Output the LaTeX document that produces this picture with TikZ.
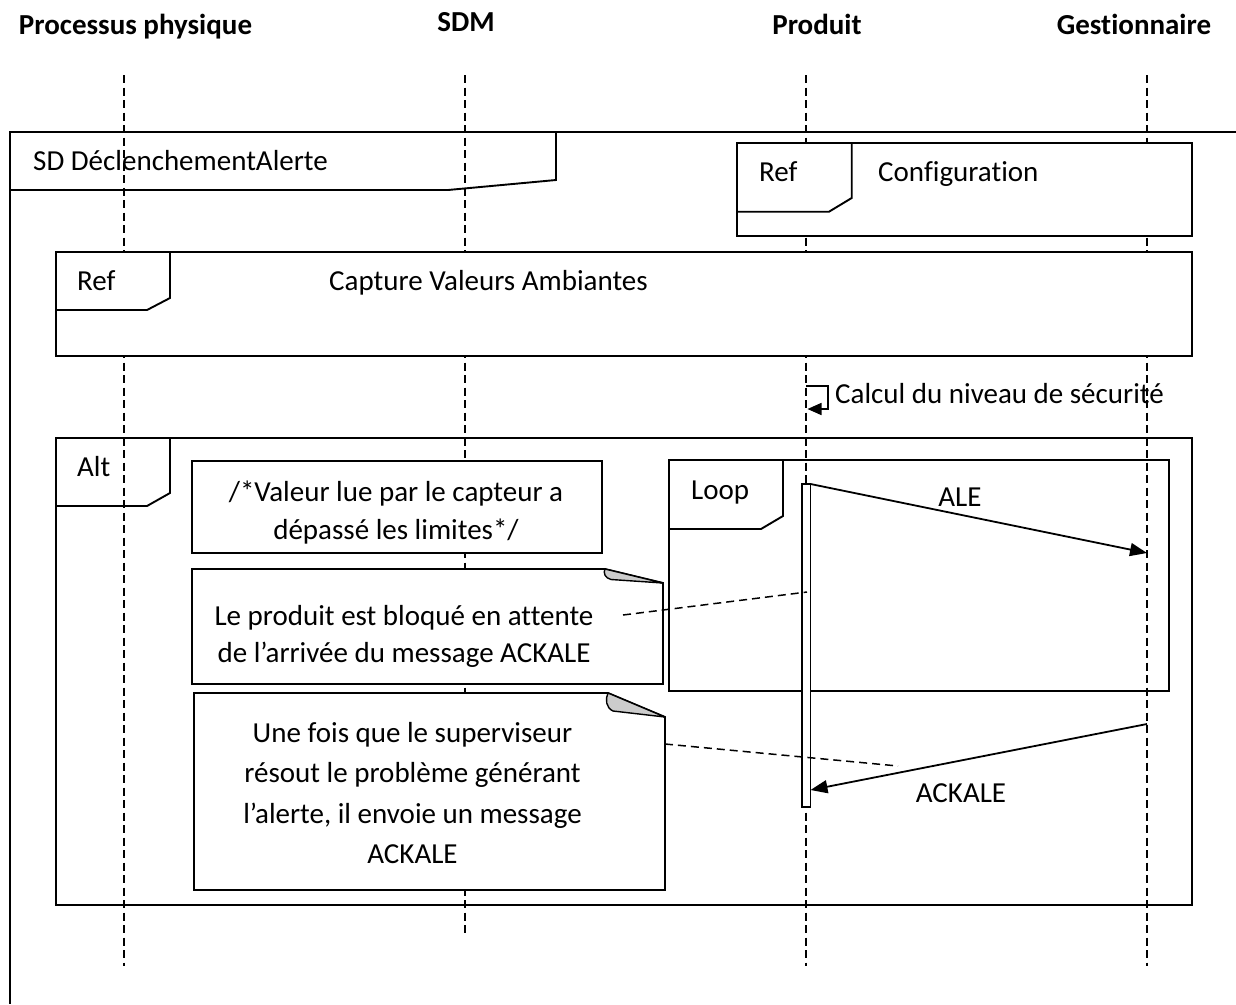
\documentclass[tikz,border=0pt]{standalone}
\usepackage{fontspec}
\setmainfont{Carlito}[Ligatures=NoCommon]
\usetikzlibrary{arrows.meta}
\begin{document}
\begin{tikzpicture}[x=1pt,y=-1pt,
  lifeline/.style={line width=1.5pt, dash pattern=on 8pt off 4.5pt},
  frm/.style={line width=1.9pt, line join=miter},
  boxfill/.style={frm, fill=white},
  msg/.style={line width=1.8pt, -{Triangle[length=17pt,width=13pt]}},
  selfmsg/.style={line width=1.7pt, -{Triangle[length=14pt,width=12pt]}},
  notelink/.style={line width=1.5pt, dash pattern=on 8pt off 5pt},
  curl/.style={fill=gray!40, line width=1.4pt, line join=round},
  lbl/.style={inner sep=0pt, font=\fontsize{29}{35}\selectfont},
  hdr/.style={inner sep=0pt, font=\bfseries\fontsize{29}{35}\selectfont},
  notetxt/.style={inner sep=0pt, align=center}
]
\useasboundingbox[fill=white] (0,0) rectangle (1236,1004);

% lifelines
\coordinate (ppT) at (124,75);  \coordinate (ppB) at (124,966);
\coordinate (sdT) at (465,75);  \coordinate (sdB) at (465,937);
\coordinate (prT) at (806,75);  \coordinate (prB) at (806,966);
\coordinate (geT) at (1147,75); \coordinate (geB) at (1147,966);
\draw[lifeline] (ppT) -- (ppB);
\draw[lifeline] (sdT) -- (sdB);
\draw[lifeline] (prT) -- (prB);
\draw[lifeline] (geT) -- (geB);

% headers
\node[hdr, anchor=base] (hpp) at (135.5,34) {Processus physique};
\node[hdr, anchor=base] (hsd) at (466,31.5) {SDM};
\node[hdr, anchor=base] (hpr) at (817,34) {Produit};
\node[hdr, anchor=base] (hge) at (1134,34) {Gestionnaire};

% outer sd frame
\draw[frm] (1236,132) -- (10,132) -- (10,1004);
\draw[frm] (556,132) -- (556,180) -- (448,190) -- (10,190);
\node[lbl, anchor=base west] (sdlbl) at (33,170) {SD DéclenchementAlerte};

% Ref Configuration
\draw[boxfill] (737,143) rectangle (1192,236);
\draw[frm] (851.7,143) -- (851.7,198) -- (829,211.7) -- (737,211.7);
\node[lbl, anchor=base west] (ref1) at (759,181) {Ref};
\node[lbl, anchor=base west] (conf) at (878,181) {Configuration};

% Ref Capture
\draw[boxfill] (56,251.7) rectangle (1192,356);
\draw[frm] (170,251.7) -- (170,298) -- (147,310) -- (56,310);
\node[lbl, anchor=base west] (ref2) at (77,290) {Ref};
\node[lbl, anchor=base west] (capt) at (329,290) {Capture Valeurs Ambiantes};

% self message
\coordinate (s1) at (806,386);
\coordinate (s2) at (828,386);
\coordinate (s3) at (828,409);
\coordinate (s4) at (807.5,409);
\draw[selfmsg] (s1) -- (s2) -- (s3) -- (s4);
\node[lbl, anchor=base west] (calc) at (835,403) {Calcul du niveau de sécurité};

% Alt frame
\draw[frm] (56,438) rectangle (1192,905);
\draw[frm] (170,438) -- (170,493) -- (147,506) -- (56,506);
\node[lbl, anchor=base west] (alt) at (77,476) {Alt};

% guard note
\draw[boxfill] (192,461) rectangle (602,553);
\node[lbl, notetxt, font=\fontsize{29}{38}\selectfont] (guard) at (396,513)
  {/*Valeur lue par le capteur a\\dépassé les limites*/};

% Loop frame
\draw[frm] (669,460) rectangle (1169,691);
\draw[frm] (783,460) -- (783,516) -- (761,529) -- (669,529);
\node[lbl, anchor=base west] (loop) at (691,499) {Loop};

% note 1
\draw[boxfill] (192,569) -- (605,569) -- (663,583) -- (663,684) -- (192,684) -- cycle;
\draw[curl] (605,569) -- (663,583) -- (611,579.5) .. controls (605,578) and (603,573) .. cycle;
\node[lbl, notetxt, font=\fontsize{29}{37}\selectfont] (note1) at (404,636)
  {Le produit est bloqué en attente\\de l’arrivée du message ACKALE};

% note 2
\draw[boxfill] (194,693) -- (608,693) -- (665,717) -- (665,890) -- (194,890) -- cycle;
\draw[curl] (608,693) -- (665,717) -- (613,711) .. controls (606,708) and (605,699) .. cycle;
\node[lbl, notetxt, font=\fontsize{29}{40.5}\selectfont] (note2) at (412.5,793)
  {Une fois que le superviseur\\résout le problème générant\\l’alerte, il envoie un message\\ACKALE};

% activation bar
\draw[line width=1.6pt, fill=white] (802,484) rectangle (810.5,807);
\coordinate (barTop) at (810.5,484);
\coordinate (barIn) at (810.5,790);
\coordinate (geA) at (1147,553);
\coordinate (geK) at (1147,724);

% messages
\draw[msg] (barTop) -- (geA);
\node[lbl, anchor=base] (ale) at (960,506.7) {ALE};
\draw[msg] (geK) -- (barIn);
\node[lbl, anchor=base] (ack) at (961,802.7) {ACKALE};

% note links
\coordinate (n1a) at (623,615);
\coordinate (n1b) at (807,592);
\draw[notelink] (n1a) -- (n1b);
\coordinate (n2a) at (665,744);
\coordinate (n2b) at (898,766);
\draw[notelink] (n2a) -- (n2b);
\end{tikzpicture}
\end{document}
